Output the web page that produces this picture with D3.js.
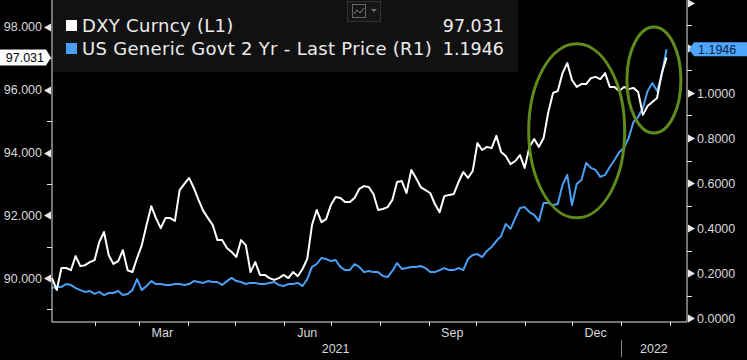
<!DOCTYPE html>
<html>
<head>
<meta charset="utf-8">
<script src="https://cdn.jsdelivr.net/npm/d3@7"></script>
<style>
  html, body { margin: 0; padding: 0; background: #000; }
  svg { display: block; font-family: "Liberation Sans", sans-serif; }
  .legend { font-family: "DejaVu Sans", sans-serif; }
</style>
</head>
<body>
<svg id="chart"></svg>
<script>
// sampled every 3 calendar days from the start date
const startDate = "2021-01-05";
const stepDays = 3;

// DXY Curncy (L1)
const dxy = [
  90.00, 89.62, 90.32, 90.32, 90.25, 90.70, 90.38, 90.41, 90.51, 90.57,
  91.15, 91.47, 90.73, 90.45, 90.54, 90.89, 90.25, 90.19, 90.64, 91.05,
  91.69, 92.29, 91.91, 91.59, 91.91, 91.91, 91.82, 92.80, 93.00, 93.19,
  92.87, 92.49, 92.14, 91.91, 91.69, 91.21, 91.21, 90.96, 90.83, 90.67,
  91.21, 91.05, 90.19, 90.51, 90.10, 90.10, 90.00, 89.94, 90.00, 90.10,
  90.00, 90.19, 90.06, 90.29, 90.61, 91.69, 92.17, 91.78, 91.88, 92.33,
  92.58, 92.55, 92.42, 92.42, 92.55, 92.84, 92.93, 92.90, 92.68, 92.17,
  92.20, 92.26, 92.49, 93.06, 93.09, 92.71, 93.44, 93.19, 92.90, 92.80,
  92.71, 92.36, 92.10, 92.61, 92.65, 92.68, 93.06, 93.38, 93.19, 93.41,
  94.30, 94.08, 94.18, 94.14, 94.53, 94.02, 93.89, 93.63, 93.73, 93.92,
  93.51, 94.18, 94.43, 94.18, 94.46, 95.29, 95.90, 95.96, 96.53, 96.85,
  96.31, 96.09, 96.18, 96.18, 96.37, 96.41, 96.34, 96.53, 96.09, 96.09,
  95.96, 96.09, 96.02, 96.06, 95.93, 95.20, 95.48, 95.61, 95.74, 96.53,
  97.031
];

// US Generic Govt 2 Yr - Last Price (R1)
const ust2y = [
  0.133, 0.138, 0.138, 0.151, 0.147, 0.133, 0.124, 0.116, 0.120, 0.107,
  0.116, 0.102, 0.111, 0.111, 0.120, 0.102, 0.107, 0.124, 0.173, 0.124,
  0.142, 0.164, 0.151, 0.151, 0.147, 0.147, 0.151, 0.151, 0.147, 0.151,
  0.164, 0.160, 0.156, 0.164, 0.160, 0.160, 0.147, 0.164, 0.178, 0.164,
  0.160, 0.151, 0.156, 0.156, 0.151, 0.151, 0.156, 0.160, 0.147, 0.142,
  0.151, 0.151, 0.156, 0.142, 0.173, 0.227, 0.240, 0.267, 0.262, 0.253,
  0.258, 0.227, 0.213, 0.213, 0.240, 0.227, 0.204, 0.209, 0.204, 0.204,
  0.187, 0.182, 0.209, 0.244, 0.218, 0.222, 0.227, 0.227, 0.231, 0.222,
  0.204, 0.204, 0.213, 0.222, 0.213, 0.213, 0.222, 0.213, 0.262, 0.280,
  0.284, 0.271, 0.298, 0.316, 0.342, 0.364, 0.418, 0.396, 0.444, 0.489,
  0.493, 0.471, 0.458, 0.431, 0.511, 0.511, 0.502, 0.507, 0.591, 0.636,
  0.502, 0.596, 0.613, 0.689, 0.667, 0.658, 0.627, 0.636, 0.671, 0.702,
  0.738, 0.756, 0.800, 0.871, 0.893, 0.933, 1.009, 1.044, 1.009, 1.080,
  1.1946
];

const leftTicks = [90, 92, 94, 96, 98];
const rightTicks = [0, 0.2, 0.4, 0.6, 0.8, 1.0];
const monthLabels = [["2021-03-16", "Mar"], ["2021-06-16", "Jun"], ["2021-09-16", "Sep"], ["2021-12-16", "Dec"]];
const yearLabels = [["2021", "2021-07-04"], ["2022", "2022-01-22"]];
// circled regions: [centre date, centre DXY level, rx, ry]
const highlights = [["2021-12-04", 94.69, 48, 87], ["2022-01-22", 96.31, 27, 53]];

const W = 747, H = 360;
const margin = { left: 52, right: 60, top: 0, bottom: 38 };
const parse = d3.timeParse("%Y-%m-%d");
const t0 = parse(startDate);
const dates = dxy.map((d, i) => d3.timeDay.offset(t0, i * stepDays));

const svg = d3.select("#chart").attr("width", W).attr("height", H);
svg.append("rect").attr("width", W).attr("height", H).attr("fill", "#000");

const x = d3.scaleTime()
    .domain([parse("2021-01-05"), parse("2022-02-12")])
    .range([margin.left, W - margin.right]);
const yL = d3.scaleLinear().domain([88.6, 98.86]).range([322, 0]);
const yR = d3.scaleLinear().domain([0, 1.4]).range([318, 3]);

const axisCol = "#e8e8e8";
const textCol = "#d9d9d9";
const fs = 12.5;

// legend panel (drawn behind lines)
svg.append("rect")
    .attr("x", 53).attr("y", 0).attr("width", 465).attr("height", 72)
    .attr("fill", "#111111");

// lines
const lineL = d3.line().x((d, i) => x(dates[i])).y(d => yL(d));
const lineR = d3.line().x((d, i) => x(dates[i])).y(d => yR(d));

svg.append("path").datum(ust2y)
    .attr("d", lineR).attr("fill", "none")
    .attr("stroke", "#4a9ff5").attr("stroke-width", 2).attr("stroke-linejoin", "round");
svg.append("path").datum(dxy)
    .attr("d", lineL).attr("fill", "none")
    .attr("stroke", "#ffffff").attr("stroke-width", 2).attr("stroke-linejoin", "round");

// highlight ellipses
svg.selectAll(".hl").data(highlights).join("ellipse")
    .attr("class", "hl")
    .attr("cx", d => x(parse(d[0]))).attr("cy", d => yL(d[1]))
    .attr("rx", d => d[2]).attr("ry", d => d[3])
    .attr("fill", "none").attr("stroke", "#5f8a1c").attr("stroke-width", 3);

// axes lines
const x0 = margin.left, x1 = W - margin.right, yb = 322;
svg.append("line").attr("x1", x0).attr("x2", x0).attr("y1", 0).attr("y2", yb).attr("stroke", axisCol);
svg.append("line").attr("x1", x1).attr("x2", x1).attr("y1", 0).attr("y2", yb).attr("stroke", axisCol);
svg.append("line").attr("x1", x0).attr("x2", x1).attr("y1", yb).attr("y2", yb).attr("stroke", axisCol);

// left axis ticks
d3.range(89, 99).forEach(v => {
    const y = Math.round(yL(v)) + 0.5;
    if (v % 2 === 0) {
        svg.append("path")
            .attr("d", `M${x0 - 1},${y - 4} L${x0 - 8},${y} L${x0 - 1},${y + 4} Z`)
            .attr("fill", axisCol);
    } else {
        svg.append("line").attr("x1", x0 - 5).attr("x2", x0).attr("y1", y).attr("y2", y).attr("stroke", axisCol);
    }
});
svg.selectAll(".ltl").data(leftTicks).join("text")
    .attr("class", "ltl")
    .attr("x", 42).attr("y", d => yL(d) + 4.5)
    .attr("text-anchor", "end").attr("font-size", fs).attr("fill", textCol)
    .text(d => d3.format(".3f")(d));

// right axis ticks
d3.range(0, 15).forEach(k => {
    const v = k / 10;
    const y = Math.round(yR(v)) + 0.5;
    if (k % 2 === 0) {
        svg.append("path")
            .attr("d", `M${x1 + 1},${y - 4} L${x1 + 8},${y} L${x1 + 1},${y + 4} Z`)
            .attr("fill", axisCol);
    } else {
        svg.append("line").attr("x1", x1).attr("x2", x1 + 5).attr("y1", y).attr("y2", y).attr("stroke", axisCol);
    }
});
svg.selectAll(".rtl").data(rightTicks).join("text")
    .attr("class", "rtl")
    .attr("x", 697).attr("y", d => yR(d) + 4.5)
    .attr("font-size", fs).attr("fill", textCol)
    .text(d => d3.format(".4f")(d));

// bottom month ticks
const months = d3.timeMonth.range(parse("2021-02-01"), parse("2022-02-02"));
svg.selectAll(".mt").data(months).join("line")
    .attr("class", "mt")
    .attr("x1", d => Math.round(x(d)) + 0.5).attr("x2", d => Math.round(x(d)) + 0.5)
    .attr("y1", yb).attr("y2", yb + 4).attr("stroke", axisCol);
svg.selectAll(".ml").data(monthLabels).join("text")
    .attr("class", "ml")
    .attr("x", d => x(parse(d[0]))).attr("y", 337)
    .attr("text-anchor", "middle").attr("font-size", fs).attr("fill", textCol)
    .text(d => d[1]);
svg.selectAll(".yl").data(yearLabels).join("text")
    .attr("class", "yl")
    .attr("x", d => x(parse(d[1]))).attr("y", 353)
    .attr("text-anchor", "middle").attr("font-size", fs).attr("fill", textCol)
    .text(d => d[0]);
const xYear = Math.round(x(parse("2022-01-01"))) + 0.5;
svg.append("line").attr("x1", xYear).attr("x2", xYear).attr("y1", 340).attr("y2", 357).attr("stroke", "#888");

// legend
const lastL = dxy[dxy.length - 1], lastR = ust2y[ust2y.length - 1];
const legend = [
    ["DXY Curncy (L1)", d3.format(".3f")(lastL), "#ffffff"],
    ["US Generic Govt 2 Yr - Last Price (R1)", d3.format(".4f")(lastR), "#4a9ff5"]
];
legend.forEach((d, i) => {
    const yy = 32 + i * 23;
    svg.append("rect").attr("x", 66).attr("y", yy - 12).attr("width", 11).attr("height", 11).attr("fill", d[2]);
    svg.append("text").attr("class", "legend").attr("x", 82).attr("y", yy)
        .attr("font-size", 18).attr("letter-spacing", 0.3).attr("fill", "#ececec").text(d[0]);
    svg.append("text").attr("class", "legend").attr("x", 504).attr("y", yy).attr("text-anchor", "end")
        .attr("font-size", 17.5).attr("fill", "#ececec").text(d[1]);
});

// small chart-type icon
svg.append("rect").attr("x", 347.5).attr("y", 1.5).attr("width", 33).attr("height", 20)
    .attr("fill", "#161616").attr("stroke", "#333");
svg.append("rect").attr("x", 352.5).attr("y", 4.5).attr("width", 13).attr("height", 13)
    .attr("fill", "none").attr("stroke", "#666");
svg.append("path").attr("d", "M354,14 L357,10 L360,13 L364,8")
    .attr("fill", "none").attr("stroke", "#888").attr("stroke-width", 1);
svg.append("path").attr("d", "M371,9 L377,9 L374,12 Z").attr("fill", "#777");

// last-value markers
const yLv = yL(lastL);
svg.append("path")
    .attr("d", `M0,${yLv - 8} L46,${yLv - 8} L51,${yLv} L46,${yLv + 8} L0,${yLv + 8} Z`)
    .attr("fill", "#ffffff");
svg.append("text").attr("x", 44).attr("y", yLv + 4.5).attr("text-anchor", "end")
    .attr("font-size", fs).attr("fill", "#000").text(d3.format(".3f")(lastL));

const yRv = yR(lastR);
svg.append("path")
    .attr("d", `M689,${yRv} L694,${yRv - 7} L747,${yRv - 7} L747,${yRv + 7} L694,${yRv + 7} Z`)
    .attr("fill", "#4da6ff");
svg.append("text").attr("x", 698).attr("y", yRv + 4.5)
    .attr("font-size", fs).attr("fill", "#0b1f3a").text(d3.format(".4f")(lastR));
</script>
</body>
</html>
